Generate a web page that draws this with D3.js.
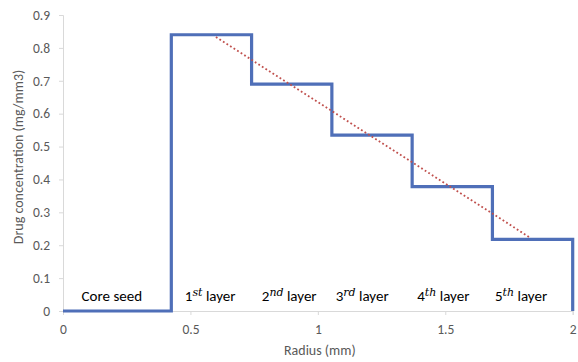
<!DOCTYPE html>
<html>
<head>
<meta charset="utf-8">
<script src="https://cdn.jsdelivr.net/npm/d3@7"></script>
<style>
  body { margin: 0; background: #fff; }
  text { font-family: Carlito, Lato, "Open Sans", sans-serif; }
</style>
</head>
<body>
<svg id="chart" width="578" height="362"></svg>
<script>
// Step profile: layer edges (mm) and concentration per step
const edges = [0, 0.425, 0.74, 1.055, 1.37, 1.685, 2.0];
const levels = [0, 0.84, 0.69, 0.535, 0.378, 0.218];
// Linear trend (dotted)
const trend = [[0.6, 0.833], [1.835, 0.222]];
// Region labels
const labels = [
  {x: 0.073, main: 'Core seed', sup: ''},
  {x: 0.478, main: '1', sup: 'st'},
  {x: 0.78, main: '2', sup: 'nd'},
  {x: 1.07, main: '3', sup: 'rd'},
  {x: 1.39, main: '4', sup: 'th'},
  {x: 1.695, main: '5', sup: 'th'}
];
const xTicks = [0, 0.5, 1, 1.5, 2];
const yTicks = [0, 0.1, 0.2, 0.3, 0.4, 0.5, 0.6, 0.7, 0.8, 0.9];

const svg = d3.select('#chart');
const x = d3.scaleLinear().domain([0, 2]).range([63, 572.7]);
const y = d3.scaleLinear().domain([0, 0.9]).range([311, 15]);

// Axes
const xAxis = svg.append('g')
  .attr('transform', 'translate(0,' + y(0) + ')')
  .call(d3.axisBottom(x).tickValues(xTicks).tickSize(4).tickPadding(9)
    .tickFormat(d => d3.format('')(d)));
const yAxis = svg.append('g')
  .attr('transform', 'translate(' + x(0) + ',0)')
  .call(d3.axisLeft(y).tickValues(yTicks).tickSize(4).tickPadding(9)
    .tickFormat(d => d === 0 ? '0' : d3.format('.1f')(d)));
[xAxis, yAxis].forEach(a => {
  a.select('.domain').attr('stroke', '#d9d9d9');
  a.selectAll('.tick line').attr('stroke', '#d9d9d9');
  a.selectAll('.tick text').attr('fill', '#595959').style('font-size', '13.5px');
});

// Step line built from edges/levels
const pts = [];
levels.forEach((v, i) => {
  pts.push([edges[i], v]);
  pts.push([edges[i + 1], v]);
});
pts.push([edges[edges.length - 1], 0]);
const line = d3.line().x(d => x(d[0])).y(d => y(d[1]));
svg.append('path')
  .datum(pts)
  .attr('d', line)
  .attr('fill', 'none')
  .attr('stroke', '#4f6fb8')
  .attr('stroke-width', 3.2)
  .attr('stroke-linejoin', 'miter');

// Dotted trend
svg.append('path')
  .datum(trend)
  .attr('d', line)
  .attr('fill', 'none')
  .attr('stroke', '#c0504d')
  .attr('stroke-width', 1.8)
  .attr('stroke-dasharray', '1.8,2.4');

// Region labels
labels.forEach(l => {
  const t = svg.append('text')
    .attr('x', x(l.x))
    .attr('y', 301)
    .attr('fill', '#000')
    .style('font-size', '15px');
  t.append('tspan').text(l.main);
  if (l.sup) {
    t.append('tspan').text(l.sup)
      .attr('dy', -5)
      .style('font-size', '11px')
      .style('font-style', 'italic')
      .style('font-family', '"DejaVu Serif", serif');
    t.append('tspan').text(' layer').attr('dy', 5);
  }
});

// Axis titles
svg.append('text')
  .attr('x', (x(0) + x(2)) / 2 + 2)
  .attr('y', 355)
  .attr('text-anchor', 'middle')
  .attr('fill', '#595959')
  .style('font-size', '14px')
  .text('Radius (mm)');
svg.append('text')
  .attr('transform', 'translate(23,157) rotate(-90)')
  .attr('text-anchor', 'middle')
  .attr('fill', '#595959')
  .style('font-size', '14px')
  .text('Drug concentration (mg/mm3)');
</script>
</body>
</html>
